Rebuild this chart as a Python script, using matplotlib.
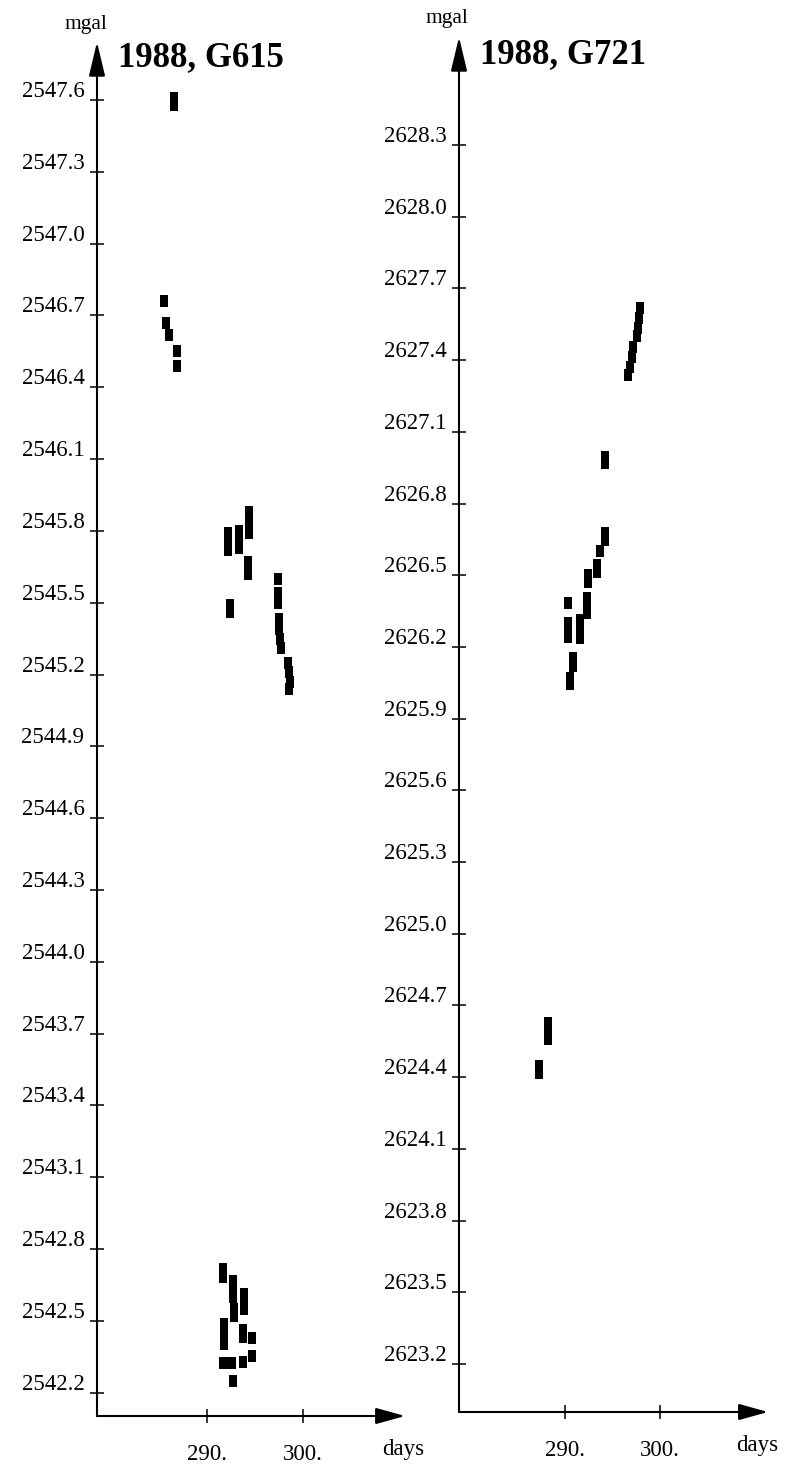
import matplotlib
matplotlib.use("Agg")
import matplotlib.pyplot as plt
from matplotlib.transforms import ScaledTranslation
from matplotlib.path import Path

plt.rcParams['font.family'] = ['Liberation Serif', 'DejaVu Serif']

# ---------------- data ----------------
g615_day = [286.6, 286.6, 286.6,
            285.5, 285.7, 286.0, 286.9, 286.9,
            292.2, 292.2, 292.2,
            293.3, 293.3, 293.3,
            294.4, 294.4, 294.4,
            294.3, 294.3,
            292.4, 292.4,
            297.4, 297.4, 297.4,
            297.5, 297.5, 297.6, 297.7,
            298.4, 298.5, 298.6, 298.5,
            291.7, 291.7,
            292.7, 292.7, 292.7,
            293.9, 293.9, 293.9,
            292.8, 292.8,
            291.8, 291.8, 291.8,
            293.8, 293.8,
            294.7, 294.7,
            291.7, 292.2, 292.6,
            293.8,
            292.7]
g615_mgal = [2547.61, 2547.595, 2547.58,
             2546.76, 2546.67, 2546.62, 2546.55, 2546.49,
             2545.79, 2545.77, 2545.72,
             2545.80, 2545.77, 2545.73,
             2545.88, 2545.84, 2545.79,
             2545.67, 2545.62,
             2545.49, 2545.46,
             2545.60, 2545.54, 2545.50,
             2545.43, 2545.39, 2545.35, 2545.31,
             2545.25, 2545.21, 2545.17, 2545.14,
             2542.717, 2542.683,
             2542.667, 2542.633, 2542.60,
             2542.613, 2542.579, 2542.55,
             2542.55, 2542.521,
             2542.487, 2542.446, 2542.404,
             2542.462, 2542.433,
             2542.429, 2542.354,
             2542.325, 2542.325, 2542.325,
             2542.329,
             2542.249]

g721_day = [297.9, 297.8, 297.7, 297.6, 297.2, 297.0, 296.8, 296.6,
            294.2, 294.2,
            294.2, 294.2,
            293.7,
            293.4, 293.4,
            292.4, 292.4,
            292.3, 292.3, 292.3,
            291.6, 291.6, 291.6,
            290.3,
            290.3, 290.3, 290.3,
            290.8, 290.8,
            290.5, 290.5,
            288.2, 288.2, 288.2,
            287.3, 287.3]
g721_mgal = [2627.617, 2627.576, 2627.534, 2627.50, 2627.454, 2627.412, 2627.370, 2627.337,
             2626.993, 2626.968,
             2626.675, 2626.646,
             2626.60,
             2626.541, 2626.512,
             2626.499, 2626.47,
             2626.403, 2626.37, 2626.344,
             2626.311, 2626.269, 2626.236,
             2626.382,
             2626.302, 2626.269, 2626.24,
             2626.152, 2626.122,
             2626.068, 2626.043,
             2624.627, 2624.594, 2624.561,
             2624.447, 2624.418]

g615_yticks = [2547.6, 2547.3, 2547.0, 2546.7, 2546.4, 2546.1, 2545.8, 2545.5, 2545.2,
               2544.9, 2544.6, 2544.3, 2544.0, 2543.7, 2543.4, 2543.1, 2542.8, 2542.5, 2542.2]
g721_yticks = [2628.3, 2628.0, 2627.7, 2627.4, 2627.1, 2626.8, 2626.5, 2626.2, 2625.9,
               2625.6, 2625.3, 2625.0, 2624.7, 2624.4, 2624.1, 2623.8, 2623.5, 2623.2]
xticks = [290, 300]
xtick_labels = ["290.", "300."]
titles = ["1988, G615", "1988, G721"]

# ---------------- figure ----------------
W, H = 786, 1472
fig = plt.figure(figsize=(W / 100, H / 100), dpi=100)
fig.patch.set_facecolor('white')


def px_axes(x0, x1, y0, y1):
    return fig.add_axes([x0 / W, 1 - y1 / H, (x1 - x0) / W, (y1 - y0) / H])


rect = Path([(-0.36, -0.5), (0.36, -0.5), (0.36, 0.5), (-0.36, 0.5), (-0.36, -0.5)],
            [Path.MOVETO, Path.LINETO, Path.LINETO, Path.LINETO, Path.CLOSEPOLY])

panels = [
    dict(box=(97, 405, 42, 1416), xlim=(278.54, 310.625), ylim=(2542.103, 2547.842),
         day=g615_day, val=g615_mgal, yt=g615_yticks, title=titles[0],
         title_xy=(118, 58), mgal_xy=(86, 24), days_xy=(403, 1449)),
    dict(box=(459, 768, 37, 1412), xlim=(278.84, 311.37), ylim=(2622.999, 2628.752),
         day=g721_day, val=g721_mgal, yt=g721_yticks, title=titles[1],
         title_xy=(480, 55), mgal_xy=(447, 18), days_xy=(757, 1445)),
]

for p in panels:
    ax = px_axes(*p['box'])
    ax.set_xlim(*p['xlim'])
    ax.set_ylim(*p['ylim'])
    ax.set_facecolor('none')
    for s in ax.spines.values():
        s.set_visible(False)
    ax.plot(p['day'], p['val'], linestyle='none', marker=rect, markersize=8.5,
            color='black', markeredgewidth=0)

    ax.set_yticks(p['yt'])
    ax.set_yticklabels([f"{v:.1f}" for v in p['yt']])
    ax.set_xticks(xticks)
    ax.set_xticklabels(xtick_labels)
    ax.tick_params(axis='both', direction='inout', length=10, width=1.1,
                   labelsize=16.5, colors='black')
    ax.tick_params(axis='y', pad=4)
    ax.tick_params(axis='x', pad=15)
    off = ScaledTranslation(0, 0.11, fig.dpi_scale_trans)
    for lab in ax.get_yticklabels():
        lab.set_transform(lab.get_transform() + off)

    # axis lines with arrow heads
    ax.annotate('', xy=(0, 1), xytext=(0, 0), xycoords='axes fraction',
                arrowprops=dict(arrowstyle='-|>,head_length=2.1,head_width=0.5',
                                mutation_scale=10, lw=1.5, color='black',
                                shrinkA=0, shrinkB=0), annotation_clip=False)
    ax.annotate('', xy=(1, 0), xytext=(0, 0), xycoords='axes fraction',
                arrowprops=dict(arrowstyle='-|>,head_length=1.8,head_width=0.5',
                                mutation_scale=10, lw=1.5, color='black',
                                shrinkA=0, shrinkB=0), annotation_clip=False)

    tx, ty = p['title_xy']
    fig.text(tx / W, 1 - ty / H, p['title'], fontsize=25, fontweight='bold',
             ha='left', va='center')
    mx, my = p['mgal_xy']
    fig.text(mx / W, 1 - my / H, 'mgal', fontsize=15.5, ha='center', va='center')
    dx, dy = p['days_xy']
    fig.text(dx / W, 1 - dy / H, 'days', fontsize=16.5, ha='center', va='center')

fig.savefig('out.png', dpi=100, facecolor='white')
